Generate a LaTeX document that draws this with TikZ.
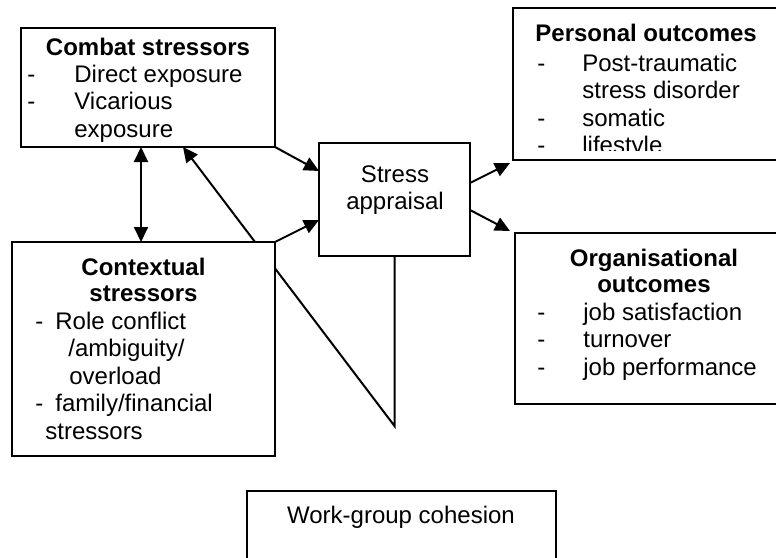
\documentclass[tikz,border=0pt]{standalone}
\usepackage{fontspec}
\setmainfont{Liberation Sans}
\usetikzlibrary{arrows.meta,backgrounds}

\begin{document}
\begin{tikzpicture}[x=0.5pt, y=-0.5pt,
    font=\fontsize{12}{13.8}\selectfont,
    box/.style={draw, fill=white, line width=1pt, inner sep=0pt, outer sep=0pt},
    txt/.style={inner sep=0pt, anchor=base west},
    mid/.style={inner sep=0pt, anchor=base},
    head/.style={inner sep=0pt, anchor=base, font=\fontsize{12}{13.8}\selectfont\bfseries},
    tip/.tip={Triangle[length=7.5pt, width=7pt]},
    arr/.style={line width=1pt, -tip}]
    \useasboundingbox (0,0) rectangle (776,557);
    \clip (0,0) rectangle (776,557);

    \node[box, minimum width=127pt, minimum height=59.5pt] (combat) at (148,87.5) {};
    \node[box, minimum width=131.5pt, minimum height=107pt] (ctx) at (143.5,349) {};
    \node[box, minimum width=75.5pt, minimum height=56.5pt] (appr) at (394.5,199.5) {};
    \node[box, minimum width=138.5pt, minimum height=76pt] (pers) at (651.5,84) {};
    \node[box, minimum width=137.5pt, minimum height=85.5pt] (org) at (652.5,318.5) {};
    \node[box, minimum width=154.5pt, minimum height=54.5pt] (wg) at (401.5,545.5) {};

    \node[head] (combattitle) at (148,55) {Combat stressors};
    \node[txt] (combatlist) at (27,82) {\begin{tabular}[t]{@{}p{23.5pt}@{}l@{}}
        - & Direct exposure\\ - & Vicarious\\ & exposure\end{tabular}};

    \node[head] (ctxtitle) at (143.5,275) {\begin{tabular}[t]{@{}c@{}}Contextual\\[-0.8pt] stressors\end{tabular}};
    \node[txt] (ctxlist) at (35,329) {\begin{tabular}[t]{@{}l@{}}
        \makebox[10pt][l]{-}Role conflict\\ \hspace*{16.5pt}/ambiguity/\\ \hspace*{17pt}overload\\
        \makebox[10pt][l]{-}family/financial\\ \hspace*{5pt}stressors\end{tabular}};

    \node[mid] (apprtext) at (395,182) {\begin{tabular}[t]{@{}c@{}}Stress\\ appraisal\end{tabular}};

    \begin{scope}
        \clip (pers.north west) rectangle ([yshift=5pt]pers.south east);
        \node[head, anchor=base west] (perstitle) at (535,41) {Personal outcomes};
        \node[txt] (perslist) at (537,71) {\begin{tabular}[t]{@{}p{22.5pt}@{}l@{}}
            - & Post-traumatic\\ & stress disorder\\ - & somatic\\ - & lifestyle\end{tabular}};
    \end{scope}

    \node[head] (orgtitle) at (654,266) {\begin{tabular}[t]{@{}c@{}}Organisational\\[-0.8pt] outcomes\end{tabular}};
    \node[txt] (orglist) at (537,320) {\begin{tabular}[t]{@{}p{23pt}@{}l@{}}
        - & job satisfaction\\ - & turnover\\ - & job performance\end{tabular}};

    \node[mid] (wgtext) at (401,523) {Work-group cohesion};

    \draw[arr] (combat.south east) -- ([yshift=14.25pt]appr.west);
    \draw[arr] (ctx.north east) -- ([yshift=-10.25pt]appr.west);
    \draw[arr] ([yshift=8.25pt]appr.east) -- ([xshift=-1.5pt,yshift=-1.5pt]pers.south west);
    \draw[arr] ([yshift=-5.25pt]appr.east) -- ([xshift=-2.5pt,yshift=1pt]org.north west);
    \draw[line width=1pt, tip-tip] ([xshift=-1.25pt]ctx.north) -- ([xshift=-3.5pt]combat.south);

    \coordinate (wgbend) at ([yshift=-85pt]appr.south);
    \begin{scope}[on background layer]
        \draw[arr] (appr.south) -- (wgbend) -- ([xshift=17.5pt]combat.south);
    \end{scope}
\end{tikzpicture}
\end{document}
